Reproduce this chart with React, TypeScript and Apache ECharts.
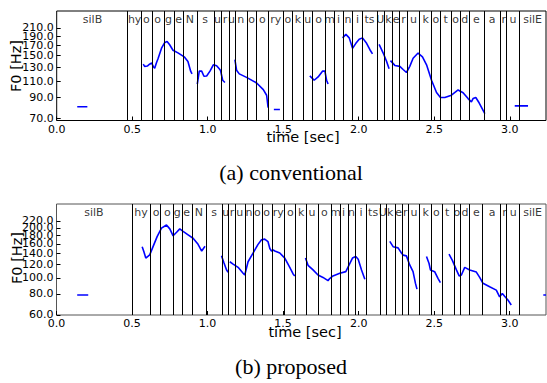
import React, { useEffect, useRef } from "react";
import * as echarts from "echarts";

// ---------- data ----------
const convPhonemes = ["silB","hy","o","o","g","e","N","s","u","r","u","n","o","o","ry","o","k","u","o","m","i","n","i","ts","U","k","e","r","u","k","o","t","o","d","e","a","r","u","silE"];
const convBounds = [0,0.474,0.558,0.629,0.706,0.776,0.838,0.927,1.037,1.092,1.136,1.180,1.257,1.324,1.400,1.500,1.562,1.632,1.694,1.776,1.837,1.897,1.959,2.025,2.118,2.168,2.224,2.272,2.320,2.404,2.482,2.541,2.610,2.674,2.731,2.828,2.938,2.982,3.062,3.24];

const propPhonemes = ["silB","hy","o","o","g","e","N","s","u","r","u","n","o","o","ry","o","k","u","o","m","i","n","i","ts","U","k","e","r","u","k","o","t","o","d","e","a","r","u","silE"];
const propBounds = [0,0.496,0.622,0.695,0.772,0.827,0.897,0.988,1.099,1.142,1.180,1.246,1.301,1.357,1.426,1.511,1.584,1.654,1.727,1.820,1.875,1.926,1.979,2.051,2.140,2.179,2.239,2.290,2.327,2.404,2.482,2.548,2.625,2.674,2.735,2.823,2.945,2.985,3.062,3.24];

// F0 contours [time sec, Hz], one list per voiced segment
const convF0: number[][][] = [
  [[0.136,80.4],[0.203,80.4]],
  [[0.573,135],[0.582,131.5],[0.600,132],[0.615,135],[0.629,137],[0.640,131],[0.649,128.5],[0.660,137],[0.672,145],[0.694,164],[0.716,176],[0.731,178],[0.748,171],[0.770,160],[0.803,155],[0.847,147],[0.869,139.5],[0.887,124],[0.896,120]],
  [[0.931,106],[0.944,124],[0.960,124],[0.975,116.5],[0.993,117],[1.015,124],[1.037,134],[1.059,132.5],[1.075,128],[1.085,125],[1.099,111],[1.114,108]],
  [[1.180,142.5],[1.191,125.5],[1.209,120],[1.257,115],[1.324,107.4],[1.368,99],[1.390,92.5],[1.400,79.5]],
  [[1.438,77.8],[1.478,77.8]],
  [[1.676,117],[1.705,111],[1.731,115.6],[1.760,124],[1.776,124],[1.787,111],[1.797,106]],
  [[1.893,186],[1.915,194],[1.937,186],[1.959,164],[1.981,174],[2.003,183],[2.025,186],[2.052,174],[2.074,161],[2.091,153]],
  [[2.135,172],[2.162,154.6],[2.184,140],[2.201,127.8]],
  [[2.210,141],[2.239,133],[2.272,131.5],[2.294,126.5],[2.316,122],[2.338,131.5],[2.360,145],[2.393,154.6],[2.422,147.6],[2.449,134],[2.482,111],[2.515,95.6],[2.541,90],[2.570,90],[2.614,92.6],[2.658,98.6],[2.691,95.4],[2.724,88.8],[2.746,85.3],[2.757,88.8],[2.775,90],[2.797,84.4],[2.835,74]],
  [[3.033,81.3],[3.121,81.3]],
];

const propF0: number[][][] = [
  [[0.137,78.8],[0.210,78.8]],
  [[0.567,154],[0.578,144],[0.591,131.5],[0.617,137.5],[0.639,154],[0.666,177],[0.695,199],[0.728,208],[0.750,197],[0.772,179],[0.795,188],[0.816,197],[0.838,190.5],[0.871,181.5],[0.904,173],[0.937,159],[0.961,145],[0.983,155]],
  [[1.092,135.6],[1.107,124],[1.125,111.8],[1.136,108]],
  [[1.147,125],[1.169,121],[1.202,115.7],[1.235,106.5],[1.246,104],[1.268,125],[1.301,141],[1.334,159],[1.357,169.6],[1.378,171],[1.400,165],[1.412,150],[1.423,145],[1.434,147],[1.445,145],[1.478,141],[1.511,131.5],[1.544,115.6],[1.566,105.6],[1.577,102.7]],
  [[1.648,131.5],[1.665,119],[1.698,111.6],[1.731,104],[1.764,100.6],[1.797,96.2],[1.808,99],[1.830,102.7],[1.875,106.5],[1.915,109],[1.937,119.6],[1.959,131.5],[1.981,134.5],[1.997,129.5],[2.019,111.6],[2.041,98]],
  [[2.206,165.7],[2.228,154],[2.261,151.5],[2.283,141],[2.294,137],[2.316,135.6],[2.338,119.6],[2.360,109],[2.376,92.6],[2.386,85.6]],
  [[2.449,134.5],[2.466,122],[2.475,111.6],[2.503,109],[2.525,99.3],[2.541,93.5]],
  [[2.598,139],[2.621,127],[2.647,111.6],[2.665,102.7],[2.680,104],[2.702,115.6],[2.735,111.6],[2.779,108.3],[2.801,100.6],[2.823,92.7],[2.867,88.4],[2.911,84.4],[2.933,76.9],[2.951,80.6],[2.966,77.5],[2.988,73.6],[3.010,68.7]],
  [[3.222,78.8],[3.24,78.8]],
];

const convYTicks = [70, 90, 110, 130, 150, 170, 190, 210];
const propYTicks = [60, 80, 100, 120, 140, 160, 180, 200, 220];
const xTicks = [0, 0.5, 1.0, 1.5, 2.0, 2.5, 3.0];

const convYRange = [68, 258];
const propYRange = [59.8, 278];
const xMax = 3.24;

// ---------- chart ----------
const FONT = "DejaVu Sans";

export default function App() {
  const ref = useRef<HTMLDivElement>(null);
  useEffect(() => {
    document.body.style.margin = "0";
    if (!ref.current) return;
    const chart = echarts.init(ref.current, undefined, { renderer: "svg" });

    const grids = [
      { left: 56.7, top: 11, width: 489.3, height: 109.5 },
      { left: 56.5, top: 204, width: 489.5, height: 111 },
    ];
    const panels = [
      { ph: convPhonemes, b: convBounds, f0: convF0, ticks: convYTicks, yr: convYRange, frame: "#000" },
      { ph: propPhonemes, b: propBounds, f0: propF0, ticks: propYTicks, yr: propYRange, frame: "#555" },
    ];

    const xAxes: any[] = [];
    const yAxes: any[] = [];
    const series: any[] = [];

    panels.forEach((p, i) => {
      const ymin = Math.log(p.yr[0]);
      const ymax = Math.log(p.yr[1]);
      xAxes.push({
        type: "value",
        gridIndex: i,
        min: 0,
        max: xMax,
        axisLine: { show: false },
        splitLine: { show: false },
        axisTick: { show: true, inside: true, length: 4, lineStyle: { color: "#000" }, customValues: xTicks },
        axisLabel: {
          customValues: xTicks,
          formatter: (v: number) => v.toFixed(1),
          fontFamily: FONT,
          fontSize: 11,
          color: "#000",
          margin: 3,
          showMinLabel: true,
          showMaxLabel: true,
        },
      });
      const lt = p.ticks.map((t) => Math.log(t));
      // two left y axes sharing one scale: alternate tick labels so that
      // the library does not drop the crowded top labels
      [0, 1].forEach((parity) => {
        const vals = lt.filter((_, k) => k % 2 === parity);
        yAxes.push({
          type: "value",
          gridIndex: i,
          position: "left",
          offset: 0,
          min: ymin,
          max: ymax,
          axisLine: { show: false },
          splitLine: { show: false },
          axisTick: { show: true, inside: true, length: 4, lineStyle: { color: "#000" }, customValues: vals },
          axisLabel: {
            customValues: vals,
            formatter: (v: number) => Math.exp(v).toFixed(1),
            fontFamily: FONT,
            fontSize: 11,
            color: "#000",
            margin: 3,
            showMinLabel: true,
            showMaxLabel: true,
          },
        });
      });
      const yIdx = i * 2;

      const labelY = ymax - ((ymax - ymin) * 8) / grids[i].height;
      const labelData = p.ph.map((name, k) => ({
        name,
        value: [(p.b[k] + p.b[k + 1]) / 2, labelY],
      }));
      series.push({
        type: "scatter",
        xAxisIndex: i,
        yAxisIndex: yIdx,
        symbolSize: 1,
        itemStyle: { color: "rgba(0,0,0,0)" },
        silent: true,
        z: 3,
        label: {
          show: true,
          position: "inside",
          formatter: "{b}",
          color: "#000",
          fontFamily: FONT,
          fontSize: 11,
        },
        labelLayout: { hideOverlap: false },
        data: labelData,
        markLine: {
          silent: true,
          symbol: ["none", "none"],
          label: { show: false },
          lineStyle: { color: "#000", width: 1, type: "solid" },
          data: p.b.slice(1, -1).map((b) => ({ xAxis: b })),
        },
      });

      p.f0.forEach((seg) => {
        series.push({
          type: "line",
          xAxisIndex: i,
          yAxisIndex: yIdx,
          showSymbol: false,
          silent: true,
          z: 4,
          lineStyle: { color: "#0000ff", width: 1.6 },
          data: seg.map(([t, f]) => [t, Math.log(f)]),
        });
      });
    });

    const txt = (text: string, x: number, y: number, size: number, family: string, rot = 0) => ({
      type: "text",
      x,
      y,
      rotation: rot,
      style: {
        text,
        fill: "#000",
        font: `${size}px "${family}"`,
        align: "center",
        verticalAlign: "middle",
      },
    });

    chart.setOption({
      animation: false,
      backgroundColor: "#fff",
      grid: grids.map((g, i) => ({
        ...g,
        show: true,
        borderColor: panels[i].frame,
        borderWidth: 1,
        backgroundColor: "transparent",
      })),
      xAxis: xAxes,
      yAxis: yAxes,
      series,
      graphic: [
        txt("F0 [Hz]", 16, 66, 14.5, FONT, Math.PI / 2),
        txt("F0 [Hz]", 16.5, 258, 14.5, FONT, Math.PI / 2),
        txt("time [sec]", 303, 137, 14.5, FONT),
        txt("time [sec]", 305, 332, 14.5, FONT),
        txt("(a) conventional", 291, 172, 22, "Liberation Serif"),
        txt("(b) proposed", 291, 366, 22, "Liberation Serif"),
      ],
    });
    return () => chart.dispose();
  }, []);
  return <div ref={ref} style={{ width: 547, height: 383 }} />;
}
